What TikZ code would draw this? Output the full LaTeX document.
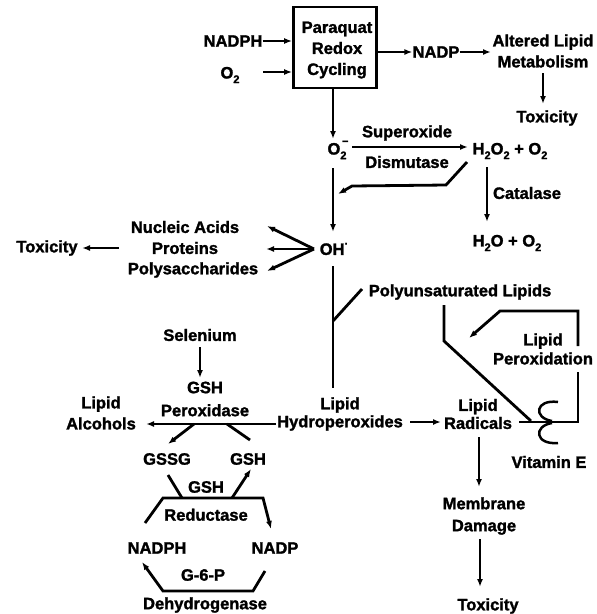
\documentclass[tikz,border=0pt]{standalone}
\usepackage{fontspec}
\setmainfont{Liberation Sans}[BoldFeatures={FakeBold=1.6}]
\usetikzlibrary{arrows.meta}
\newcommand\subtwo{\raisebox{-0.28em}{\fontsize{11}{11}\selectfont 2}}
\newcommand\supmin{\makebox[0pt][l]{\raisebox{0.62em}{\fontsize{11}{11}\selectfont\,–}}}
\begin{document}
\begin{tikzpicture}[x=1pt,y=-1pt,
  lbl/.style={font=\bfseries\fontsize{16.5}{19}\selectfont, inner sep=0pt, align=center},
  ln/.style={line width=2.8pt},
  arr/.style={ln, -{Latex[length=8pt,width=6pt]}}]
\useasboundingbox (0,0) rectangle (597,614);
\fill[white] (0,0) rectangle (597,614);

% top
\node[draw, line width=2.7pt, minimum width=83pt, minimum height=81pt, inner sep=0pt] (pqbox) at (335,47.5) {};
\node[lbl, font=\bfseries\fontsize{16.5}{21}\selectfont] (pq) at (337,50) {Paraquat\\Redox\\Cycling};
\node[lbl] (nadph1) at (233,41) {NADPH};
\node[lbl] (o2a) at (230,75) {O\subtwo};
\node[lbl] (nadp1) at (436,52) {NADP};
\node[lbl, font=\bfseries\fontsize{16.5}{21}\selectfont] (alt) at (543,51) {Altered Lipid\\Metabolism};
\node[lbl] (tox1) at (547,118) {Toxicity};

\draw[arr] (nadph1.east) -- (pqbox.west |- nadph1);
\coordinate (o2s) at (263,72);
\draw[arr] (o2s) -- (pqbox.west |- o2s);
\draw[arr] (pqbox.east |- nadp1) -- (nadp1.west);
\coordinate (altin) at (491,52);
\draw[arr] (nadp1.east) -- (altin);
\coordinate (alts) at (543,73);
\draw[arr] (alts) -- (543,104) coordinate (alte);

% superoxide row
\node[lbl] (o2m) at (337,150) {O\supmin\subtwo};
\node[lbl] (sod1) at (407,133) {Superoxide};
\node[lbl] (sod2) at (407,162) {Dismutase};
\node[lbl] (h2o2) at (510,151) {H\subtwo O\subtwo\ + O\subtwo};
\coordinate (pqbot) at (333,88);
\coordinate (o2top) at (333,139);
\draw[arr] (pqbot) -- (o2top);
\coordinate (sodA) at (352,147);
\coordinate (sodB) at (468,147);
\draw[arr] (sodA) -- (sodB);
\coordinate (bk1) at (467,162);
\coordinate (bk2) at (446,185);
\coordinate (bk3) at (352,186);
\coordinate (bk4) at (338,194);
\draw[arr] (bk1) -- (bk2) -- (bk3) -- (bk4);

% catalase
\coordinate (catA) at (487,167);
\coordinate (catB) at (487,222);
\draw[arr] (catA) -- (catB);
\node[lbl] (cat) at (527,193) {Catalase};
\node[lbl] (h2o) at (507,243) {H\subtwo O + O\subtwo};

% OH
\node[lbl] (oh) at (334,249) {OH\raisebox{0.45em}{\fontsize{11}{11}\selectfont ·}};
\coordinate (ohA) at (333,168);
\coordinate (ohB) at (333,232);
\draw[arr] (ohA) -- (ohB);
\node[lbl] (nuc) at (185,227) {Nucleic Acids};
\node[lbl] (prot) at (185,248) {Proteins};
\node[lbl] (poly) at (193,270) {Polysaccharides};
\node[lbl] (tox2) at (47,248) {Toxicity};
\coordinate (fan) at (314,249);
\coordinate (nucE) at (267,226);
\coordinate (protE) at (266,249);
\coordinate (polyE) at (267,271);
\draw[arr] (fan) -- (nucE);
\draw[arr] (fan) -- (protE);
\draw[arr] (fan) -- (polyE);
\coordinate (protW) at (119,248);
\coordinate (toxE) at (82,248);
\draw[arr] (protW) -- (toxE);

% lipids
\node[lbl] (pul) at (460,292) {Polyunsaturated Lipids};
\coordinate (ohbot) at (333,266);
\coordinate (hydtop) at (333,388);
\draw[ln] (ohbot) -- (hydtop);
\coordinate (brA) at (362,289);
\coordinate (brB) at (333,321);
\draw[ln] (brA) -- (brB);
\node[lbl, font=\bfseries\fontsize{16.5}{18}\selectfont] (hyd) at (340,414) {Lipid\\Hydroperoxides};
\node[lbl, font=\bfseries\fontsize{16.5}{18}\selectfont] (rad) at (478,414) {Lipid\\Radicals};
\coordinate (hydE) at (410,422);
\coordinate (radW) at (441,422);
\draw[arr] (hydE) -- (radW);
\coordinate (puA) at (444,305);
\coordinate (puB) at (444,341);
\coordinate (puC) at (531,421);
\draw[ln] (puA) -- (puB) -- (puC);

% peroxidation cycle
\node[lbl] (lpo) at (543,349) {Lipid\\Peroxidation};
\coordinate (radE) at (519,422);
\coordinate (cyc1) at (578,422);
\coordinate (cyc2) at (578,372);
\draw[ln] (radE) -- (cyc1) -- (cyc2);
\coordinate (cyc3) at (578,346);
\coordinate (cyc4) at (578,311);
\coordinate (cyc5) at (500,311);
\coordinate (cyc6) at (469,338);
\draw[arr] (cyc3) -- (cyc4) -- (cyc5) -- (cyc6);

% vitamin E
\draw[line width=2.5pt] (558,402) .. controls (535,399) and (533,418) .. (552,421);
\draw[line width=2.5pt] (552,423) .. controls (533,426) and (535,445) .. (558,443);
\node[lbl] (vite) at (549,462) {Vitamin E};

% membrane
\coordinate (radS) at (479,437);
\coordinate (memN) at (479,487);
\draw[arr] (radS) -- (memN);
\node[lbl, font=\bfseries\fontsize{16.5}{22}\selectfont] (mem) at (484,516) {Membrane\\Damage};
\coordinate (memS) at (480,539);
\coordinate (tox3N) at (480,587);
\draw[arr] (memS) -- (tox3N);
\node[lbl] (tox3) at (488,606) {Toxicity};

% GSH peroxidase
\node[lbl] (sel) at (200,335) {Selenium};
\coordinate (selS) at (200,347);
\coordinate (gpxN) at (200,378);
\draw[arr] (selS) -- (gpxN);
\node[lbl, font=\bfseries\fontsize{16.5}{23}\selectfont] (gpx) at (205,399) {GSH\\Peroxidase};
\node[lbl, font=\bfseries\fontsize{16.5}{21}\selectfont] (alc) at (101,413) {Lipid\\Alcohols};
\coordinate (hydW) at (276,424);
\coordinate (alcE) at (146,424);
\draw[arr] (hydW) -- (alcE);
\node[lbl] (gssg1) at (167,459) {GSSG};
\node[lbl] (gsh1) at (248,459) {GSH};
\coordinate (gxL) at (194,424);
\coordinate (gssgN) at (168,444);
\draw[arr] (gxL) -- (gssgN);
\coordinate (gshN) at (250,440);
\coordinate (gxR) at (227,424);
\draw[ln] (gshN) -- (gxR);

% GSH reductase
\node[lbl, font=\bfseries\fontsize{16.5}{28}\selectfont] (grd) at (206,501) {GSH\\Reductase};
\coordinate (rdA) at (145,523);
\coordinate (rdB) at (163,498);
\coordinate (rdC) at (263,498);
\coordinate (rdD) at (271,529);
\draw[arr] (rdA) -- (rdB) -- (rdC) -- (rdD);
\coordinate (gssgS) at (168,475);
\coordinate (rdJ1) at (182,498);
\draw[ln] (gssgS) -- (rdJ1);
\coordinate (rdJ2) at (232,498);
\coordinate (gshS) at (251,469);
\draw[arr] (rdJ2) -- (gshS);
\node[lbl] (nadph2) at (157,548) {NADPH};
\node[lbl] (nadp2) at (275,548) {NADP};

% G6PD
\coordinate (gdA) at (265,571);
\coordinate (gdB) at (253,591);
\coordinate (gdC) at (163,591);
\coordinate (gdD) at (142,562);
\draw[arr] (gdA) -- (gdB) -- (gdC) -- (gdD);
\node[lbl] (g6p) at (203,575) {G-6-P};
\node[lbl] (dh) at (205,605) {Dehydrogenase};
\end{tikzpicture}
\end{document}
